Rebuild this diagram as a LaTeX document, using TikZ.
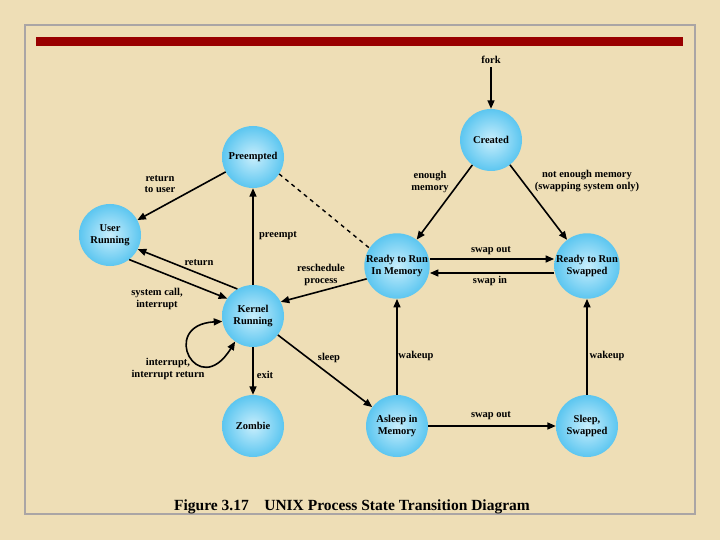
\documentclass[tikz,border=0pt]{standalone}
\usepackage{fontspec}
\setmainfont{Liberation Serif}
\definecolor{fondoPapel}{RGB}{238,222,182}
\definecolor{grisMarco}{RGB}{170,165,165}
\definecolor{rojoBarra}{RGB}{153,0,0}
\definecolor{azulEstado}{RGB}{92,198,240}
\definecolor{azulClaro}{RGB}{200,238,252}
\usepackage{tikz}
\usetikzlibrary{arrows.meta, positioning}

\begin{document}
\begin{tikzpicture}[x=1pt, y=-1pt,
  >={Triangle[length=8.5pt,width=7pt]},
  estado/.style={circle, minimum size=62pt, inner sep=0pt, shading=radial,
    inner color=azulClaro, outer color=azulEstado, align=center,
    font=\fontsize{10.5}{12}\selectfont\bfseries},
  etiqueta/.style={align=center, font=\fontsize{10.5}{11.5}\selectfont\bfseries},
  flecha/.style={->, line width=1.6pt}]
  % Fondo y marco
  \useasboundingbox (0,0) rectangle (720,540);
  \fill[fondoPapel] (0,0) rectangle (720,540);
  \draw[grisMarco, line width=2pt] (25,25) rectangle (695,514);
  \fill[rojoBarra] (36,37) rectangle (683,46);
  % Estados
  \node[estado] (cr) at (491,140) {Created};
  \node[estado] (pr) at (253,157) {Preempted};
  \node[estado] (ur) at (110,235) {User\\Running};
  \node[estado] (kr) at (253,316) {Kernel\\Running};
  \node[estado] (zo) at (253,426) {Zombie};
  \node[estado] (rim) at (397,266) {Ready to Run\\In Memory};
  \node[estado] (rsw) at (587,266) {Ready to Run\\Swapped};
  \node[estado] (aim) at (397,426) {Asleep in\\Memory};
  \node[estado] (ssw) at (587,426) {Sleep,\\Swapped};
  % Transiciones
  \node[etiqueta] (fork) at (491,60) {fork};
  \draw[flecha] (fork) -- (cr);
  \draw[flecha] (cr) -- (rim);
  \node[etiqueta] (lenough) at (430,182) {enough\\memory};
  \draw[flecha] (cr) -- (rsw);
  \node[etiqueta] (lnotenough) at (587,181) {not enough memory\\(swapping system only)};
  \draw[flecha] ([yshift=7pt]rim.east) -- ([yshift=7pt]rsw.west);
  \node[etiqueta] (lswapout) at (491,251) {swap out};
  \draw[flecha] ([yshift=-7pt]rsw.west) -- ([yshift=-7pt]rim.east);
  \node[etiqueta] (lswapin) at (490,281) {swap in};
  \draw[flecha] (aim) -- (rim);
  \node[etiqueta] (lwakeup) at (416,356) {wakeup};
  \draw[flecha] (ssw) -- (rsw);
  \node[etiqueta] (lwakeupsw) at (607,356) {wakeup};
  \draw[flecha] (aim) -- (ssw);
  \node[etiqueta] (lswapoutsl) at (491,416) {swap out};
  \draw[flecha] (kr) -- (aim);
  \node[etiqueta] (lsleep) at (329,358) {sleep};
  \draw[flecha] (kr) -- (zo);
  \node[etiqueta] (lexit) at (265,375) {exit};
  \draw[flecha] (kr) -- (pr);
  \node[etiqueta] (lpreempt) at (278,236) {preempt};
  \draw[flecha] (pr) -- (ur);
  \node[etiqueta] (lreturnuser) at (160,184) {return\\to user};
  \draw[line width=1.4pt, dash pattern=on 4pt off 4pt] (pr.-33) -- (rim.147);
  \draw[flecha] (rim.203) -- (kr.27);
  \node[etiqueta] (lresched) at (321,275) {reschedule\\process};
  \draw[flecha] (kr.120) -- (ur.-27);
  \node[etiqueta] (lreturn) at (199,263) {return};
  \draw[flecha] (ur.-52) -- (kr.146);
  \node[etiqueta] (lsyscall) at (157,299) {system call,\\interrupt};
  \draw[<->, line width=1.6pt] (kr.190) .. controls (158,325) and (198,402) .. (kr.235);
  \node[etiqueta] (linterrupt) at (168,369) {interrupt,\\interrupt return};
  % Titulo
  \node[font=\fontsize{15.5}{17}\selectfont\bfseries] (titulo) at (352,507)
    {Figure 3.17\quad UNIX Process State Transition Diagram};
\end{tikzpicture}
\end{document}
